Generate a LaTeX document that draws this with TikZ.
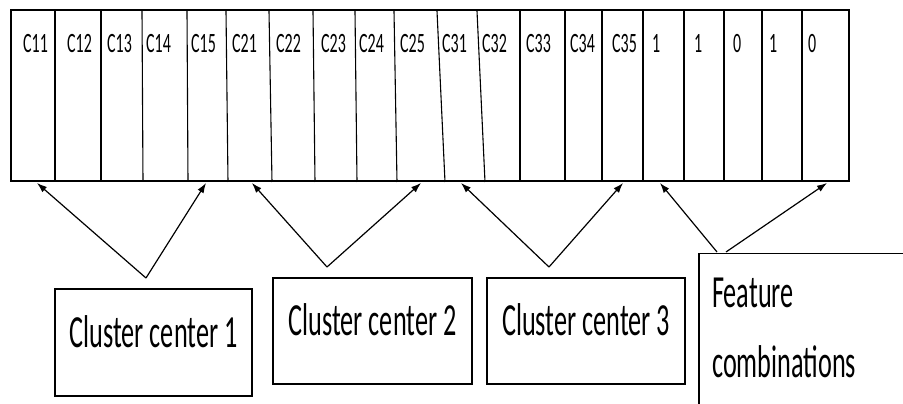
\documentclass[tikz,border=0pt]{standalone}
\usepackage{fontspec}
\setmainfont{Carlito}
\newfontfamily\narrowfont[FakeStretch=0.57]{Carlito}
\usetikzlibrary{shapes,arrows.meta}

\begin{document}
\begin{tikzpicture}[x=1pt, y=1pt,
  cell/.style={anchor=base west, inner sep=0pt, font=\narrowfont\fontsize{28}{34}\selectfont},
  block/.style={rectangle, draw, line width=1.5pt, font=\narrowfont\fontsize{46}{70}\selectfont, text height=30pt, text depth=20pt},
  line/.style={draw, line width=1.2pt, -{Latex[length=10pt, width=7pt]}}]

  \useasboundingbox (0,0) rectangle (903,404);
  \clip (0,0) rectangle (903,404);

  % Encoded vector
  \node [draw, line width=2pt, anchor=south west, inner sep=0pt, minimum width=838pt, minimum height=171pt] (vector) at (10,222) {};
  \foreach \a/\b in {55/55, 101/101, 142/143, 187/188, 226/228, 269/272, 313/315, 355/357, 394/397, 437/445,
                     477/485, 520/520, 565/565, 602/602, 643/643, 684/684, 724/724, 762/762, 802/802}
    \draw [line width=1.1pt] (\a,393) -- (\b,222);
  \foreach \x/\t [count=\i] in {23/C11, 67/C12, 107/C13, 146/C14, 191/C15, 232/C21, 276/C22, 321/C23, 359/C24, 400/C25,
                                442/C31, 482/C32, 526/C33, 570/C34, 612/C35, 652/1, 694/1, 733/0, 769/1, 808/0}
    \node [cell] (v\i) at (\x,351) {\t};

  % Cluster centers
  \node [block, minimum width=197pt, minimum height=107pt] (center1) at (153.5,61.5) {Cluster center 1};
  \node [block, minimum width=199pt, minimum height=106pt] (center2) at (372.5,73) {Cluster center 2};
  \node [block, minimum width=198pt, minimum height=106pt] (center3) at (586,73) {Cluster center 3};
  \node [draw, line width=1.5pt, anchor=north west, minimum width=260pt, minimum height=200pt] (combo) at (698,151) {};
  \node [anchor=north west, inner sep=0pt, align=left, font=\narrowfont\fontsize{46}{70}\selectfont] (combotext) at (712,126) {Feature\\combinations};

  % Arrow ends
  \coordinate (s1) at (146,126);
  \coordinate (s2) at (327,137);
  \coordinate (s3) at (549,137);
  \coordinate (s4l) at (717,152);
  \coordinate (s4r) at (726,152);
  \coordinate (t11) at (37,221);
  \coordinate (t15) at (206,221);
  \coordinate (t21) at (252,221);
  \coordinate (t25) at (421,221);
  \coordinate (t31) at (461,221);
  \coordinate (t35) at (623,221);
  \coordinate (tf1) at (660,221);
  \coordinate (tf5) at (827,221);

  \path [line] (s1) -- (t11);
  \path [line] (s1) -- (t15);
  \path [line] (s2) -- (t21);
  \path [line] (s2) -- (t25);
  \path [line] (s3) -- (t31);
  \path [line] (s3) -- (t35);
  \path [line] (s4l) -- (tf1);
  \path [line] (s4r) -- (tf5);
\end{tikzpicture}
\end{document}
